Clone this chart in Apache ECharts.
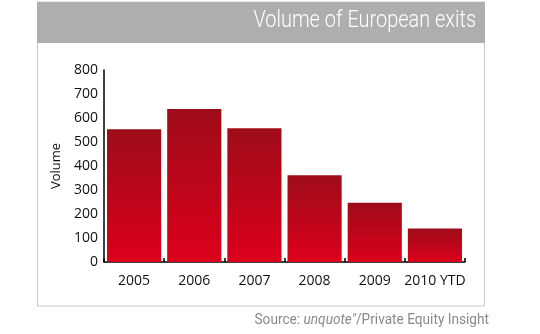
<!DOCTYPE html>
<html><head><meta charset="utf-8">
<script src="https://cdn.jsdelivr.net/npm/echarts@6/dist/echarts.min.js"></script>
<style>html,body{margin:0;padding:0;background:#fff}#c{width:540px;height:334px}</style>
</head><body><div id="c"></div>
<script>
const categories = ['2005', '2006', '2007', '2008', '2009', '2010 YTD'];
const volumes = [553, 637, 557, 361, 247, 140];
const yTicks = [0, 100, 200, 300, 400, 500, 600, 700, 800];

const chart = echarts.init(document.getElementById('c'), null, {renderer: 'canvas'});
const fontMain = '"Open Sans", sans-serif';
chart.setOption({
  animation: false,
  backgroundColor: '#ffffff',
  grid: {left: 104, right: 75, top: 70, bottom: 72},
  xAxis: {
    type: 'category', data: categories,
    axisLine: {lineStyle: {color: '#000', width: 1.5}},
    axisTick: {show: true, inside: true, length: 4, lineStyle: {color: '#000', width: 1.5}},
    axisLabel: {color: '#111', fontSize: 14, margin: 12, fontFamily: fontMain, interval: 0}
  },
  yAxis: {
    type: 'value', min: yTicks[0], max: yTicks[yTicks.length - 1], interval: 100,
    name: 'Volume', nameLocation: 'middle', nameGap: 26, nameRotate: 90,
    nameTextStyle: {color: '#111', fontSize: 13, fontFamily: fontMain},
    axisLine: {show: true, lineStyle: {color: '#000', width: 1.5}},
    axisTick: {show: false},
    splitLine: {show: false},
    axisLabel: {color: '#111', fontSize: 14, margin: 6, fontFamily: fontMain}
  },
  series: [{
    type: 'bar', data: volumes, barCategoryGap: '10%',
    itemStyle: {
      color: new echarts.graphic.LinearGradient(0, 0, 0, 1, [
        {offset: 0, color: '#9e0c19'},
        {offset: 1, color: '#dc001b'}
      ])
    }
  }],
  graphic: [
    {type: 'rect', shape: {x: 37.5, y: 2, width: 447, height: 304}, style: {fill: 'none', stroke: '#c9c9c9', lineWidth: 1}, z: 0},
    {type: 'rect', shape: {x: 37, y: 2, width: 448, height: 41}, style: {fill: '#adaeb0'}, z: 1},
    {type: 'text', x: 476, y: 9, scaleX: 0.83, style: {text: 'Volume of European exits', x: 0, y: 0, textAlign: 'right', textVerticalAlign: 'top', fill: '#ffffff', font: '300 24px Roboto, sans-serif'}, z: 2},
    {type: 'text', x: 489, y: 313, scaleX: 0.91, style: {
      x: 0, y: 0, textAlign: 'right', textVerticalAlign: 'top',
      text: '{a|Source: }{b|unquote"}{a|/Private Equity Insight}',
      rich: {
        a: {fill: '#8a8a8a', fontSize: 15, fontFamily: 'Roboto, sans-serif'},
        b: {fill: '#8a8a8a', fontSize: 15, fontStyle: 'italic', fontFamily: 'Roboto, sans-serif'}
      }
    }, z: 2}
  ]
});
</script></body></html>
